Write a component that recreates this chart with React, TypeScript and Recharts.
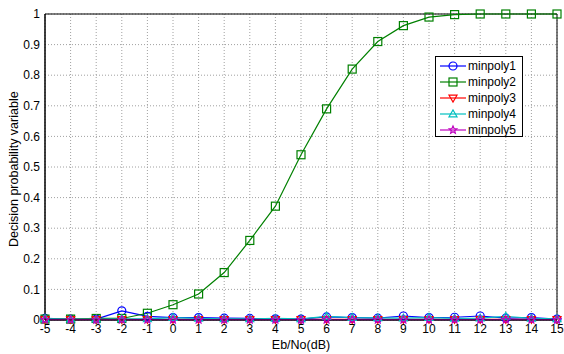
import React from 'react';
import {
  LineChart,
  Line,
  XAxis,
  YAxis,
  CartesianGrid,
  ReferenceArea,
} from 'recharts';

const ebNo = [-5, -4, -3, -2, -1, 0, 1, 2, 3, 4, 5, 6, 7, 8, 9, 10, 11, 12, 13, 14, 15];

const minpoly1 = [0.005, 0.003, 0.003, 0.03, 0.012, 0.008, 0.008, 0.006, 0.005, 0.004, 0.003, 0.01, 0.008, 0.006, 0.013, 0.008, 0.009, 0.013, 0.006, 0.008, 0.003];
const minpoly2 = [0.003, 0.003, 0.005, 0.005, 0.022, 0.05, 0.085, 0.155, 0.26, 0.372, 0.54, 0.69, 0.82, 0.91, 0.962, 0.99, 0.998, 1, 1, 1, 1];
const minpoly3 = [0.002, 0.002, 0.002, 0.002, 0.002, 0.002, 0.002, 0.002, 0.002, 0.002, 0.002, 0.002, 0.002, 0.002, 0.002, 0.002, 0.002, 0.002, 0.002, 0.002, 0.002];
const minpoly4 = [0.004, 0.003, 0.003, 0.004, 0.004, 0.008, 0.005, 0.004, 0.004, 0.005, 0.004, 0.012, 0.008, 0.007, 0.006, 0.008, 0.005, 0.006, 0.012, 0.005, 0.004];
const minpoly5 = [0.001, 0.001, 0.001, 0.001, 0.001, 0.001, 0.001, 0.001, 0.001, 0.001, 0.001, 0.001, 0.001, 0.001, 0.001, 0.001, 0.001, 0.001, 0.001, 0.001, 0.001];

const xTicks = [-5, -4, -3, -2, -1, 0, 1, 2, 3, 4, 5, 6, 7, 8, 9, 10, 11, 12, 13, 14, 15];
const yTicks = [0, 0.1, 0.2, 0.3, 0.4, 0.5, 0.6, 0.7, 0.8, 0.9, 1];

const data = ebNo.map((x, i) => ({
  x,
  minpoly1: minpoly1[i],
  minpoly2: minpoly2[i],
  minpoly3: minpoly3[i],
  minpoly4: minpoly4[i],
  minpoly5: minpoly5[i],
}));

type Kind = 'circle' | 'square' | 'down' | 'up' | 'star';

const drawMarker = (kind: Kind, cx: number, cy: number, color: string, key?: string) => {
  const s = 4;
  if (kind === 'circle') {
    return <circle key={key} cx={cx} cy={cy} r={s} fill="none" stroke={color} strokeWidth={1.2} />;
  }
  if (kind === 'square') {
    return <rect key={key} x={cx - s} y={cy - s} width={2 * s} height={2 * s} fill="none" stroke={color} strokeWidth={1.2} />;
  }
  if (kind === 'down') {
    return <polygon key={key} points={`${cx - s},${cy - s * 0.7} ${cx + s},${cy - s * 0.7} ${cx},${cy + s}`} fill="none" stroke={color} strokeWidth={1.2} />;
  }
  if (kind === 'up') {
    return <polygon key={key} points={`${cx - s},${cy + s * 0.7} ${cx + s},${cy + s * 0.7} ${cx},${cy - s}`} fill="none" stroke={color} strokeWidth={1.2} />;
  }
  const pts: string[] = [];
  for (let k = 0; k < 10; k++) {
    const r = k % 2 === 0 ? s : s * 0.45;
    const a = -Math.PI / 2 + (k * Math.PI) / 5;
    pts.push(`${cx + r * Math.cos(a)},${cy + r * Math.sin(a)}`);
  }
  return <polygon key={key} points={pts.join(' ')} fill="none" stroke={color} strokeWidth={1.2} />;
};

const markerDot = (kind: Kind, color: string) => (props: any) => {
  const { cx, cy, index } = props;
  if (cx == null || cy == null) return <g key={`d-${index}`} />;
  return drawMarker(kind, cx, cy, color, `${kind}-${index}`);
};

const seriesDefs: { key: string; color: string; kind: Kind }[] = [
  { key: 'minpoly1', color: '#0000ff', kind: 'circle' },
  { key: 'minpoly2', color: '#008000', kind: 'square' },
  { key: 'minpoly3', color: '#ff0000', kind: 'down' },
  { key: 'minpoly4', color: '#00bfbf', kind: 'up' },
  { key: 'minpoly5', color: '#bf00bf', kind: 'star' },
];

const font = "'Liberation Sans', Arial, sans-serif";

// MATLAB-style legend box, laid over the plot
const LegendBox = () => (
  <svg width={88} height={81} style={{ position: 'absolute', left: 435, top: 56, display: 'block' }}>
    <rect x={0.5} y={0.5} width={87} height={80} fill="#fff" stroke="#000" strokeWidth={1} />
    {seriesDefs.map((s, i) => {
      const y = 10 + i * 16;
      return (
        <g key={s.key}>
          <line x1={5} x2={31} y1={y} y2={y} stroke={s.color} strokeWidth={1.2} />
          {drawMarker(s.kind, 18, y, s.color)}
          <text x={33} y={y + 4} fontSize={12} fontFamily={font} fill="#000">
            {s.key}
          </text>
        </g>
      );
    })}
  </svg>
);

export default function App() {
  return (
    <div style={{ position: 'absolute', left: 0, top: 0, width: 564, height: 354, background: '#fff' }}>
      <LineChart width={564} height={354} data={data} margin={{ top: 14, right: 7, left: 0, bottom: 0 }}>
        <CartesianGrid stroke="#a0a0a0" strokeDasharray="1 2" horizontal vertical />
        <XAxis
          dataKey="x"
          type="number"
          domain={[-5, 15]}
          ticks={xTicks}
          interval={0}
          height={34}
          tickSize={0}
          tickMargin={4}
          axisLine={{ stroke: '#000' }}
          tick={{ fill: '#000', fontSize: 12, fontFamily: font }}
          label={{ value: 'Eb/No(dB)', position: 'insideBottom', offset: 5, fill: '#000', fontSize: 12.5, fontFamily: font }}
        />
        <YAxis
          type="number"
          domain={[0, 1]}
          ticks={yTicks}
          interval={0}
          width={45}
          tickSize={0}
          tickMargin={5}
          axisLine={{ stroke: '#000' }}
          tick={{ fill: '#000', fontSize: 12, fontFamily: font }}
          tickFormatter={(v: number) => (v === 0 || v === 1 ? String(v) : v.toFixed(1))}
          label={{ value: 'Decision probability variable', angle: -90, position: 'insideLeft', offset: 14, dy: 80, fill: '#000', fontSize: 12.5, fontFamily: font }}
        />
        <ReferenceArea x1={-5} x2={15} y1={0} y2={1} fill="none" stroke="#000" strokeWidth={1} ifOverflow="visible" />
        {seriesDefs.map((s) => (
          <Line
            key={s.key}
            dataKey={s.key}
            type="linear"
            stroke={s.color}
            strokeWidth={1.2}
            dot={markerDot(s.kind, s.color)}
            activeDot={false}
            isAnimationActive={false}
          />
        ))}
      </LineChart>
      <LegendBox />
    </div>
  );
}
